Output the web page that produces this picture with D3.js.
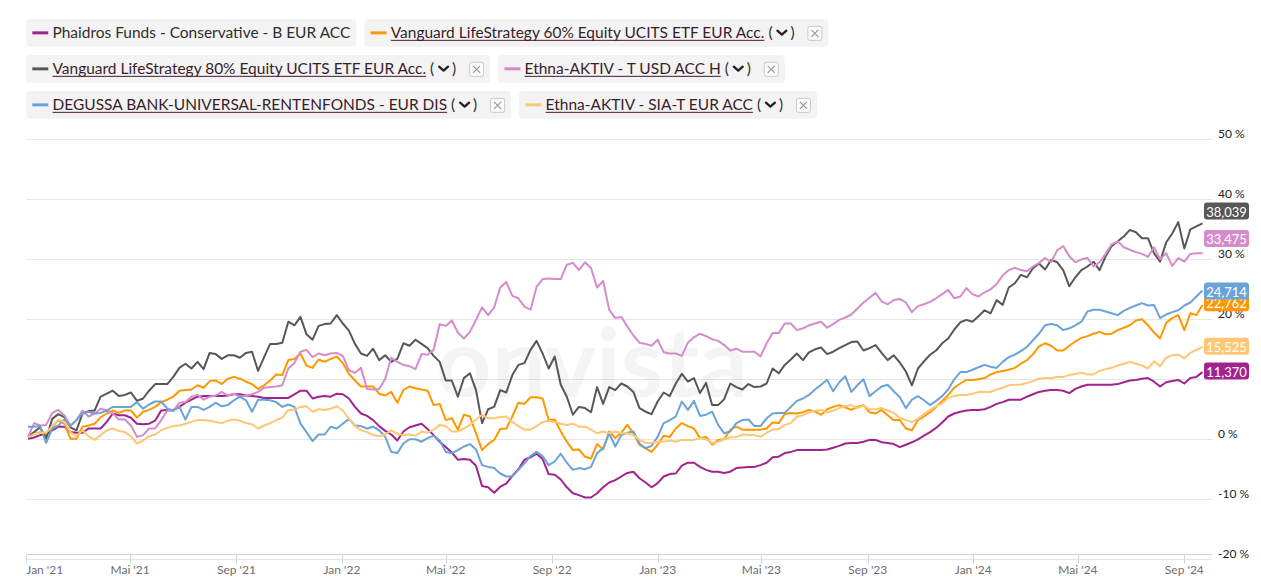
<!DOCTYPE html>
<html><head><meta charset="utf-8">
<script src="https://cdn.jsdelivr.net/npm/d3@7"></script>
<style>
html,body{margin:0;padding:0;background:#fff;}
svg{display:block;font-family:Lato,"Noto Sans",sans-serif;}
</style></head><body>
<svg id="chart" width="1261" height="587"></svg>
<script>
// ---------- DATA ----------
const seriesNames = [
  "Phaidros Funds - Conservative - B EUR ACC",
  "Vanguard LifeStrategy 60% Equity UCITS ETF EUR Acc.",
  "Vanguard LifeStrategy 80% Equity UCITS ETF EUR Acc.",
  "Ethna-AKTIV - T USD ACC H",
  "DEGUSSA BANK-UNIVERSAL-RENTENFONDS - EUR DIS",
  "Ethna-AKTIV - SIA-T EUR ACC"
];
const seriesColors = ["#a2238f","#ff9800","#575757","#d68bcb","#6aa3d7","#ffc674"];
const seriesLinked = [false,true,true,true,true,true];
const endLabels = ["11,370","22,762","38,039","33,475","24,714","15,525"];
const endValues = [11.370,22.762,38.039,33.475,24.714,15.525];
const firstWeek = "2021-01-03"; // weekly observations start

const phaidros = [0.1,0.3,0.7,0.8,1.5,2.1,2.1,1.2,1.1,1.1,1.8,1.8,1.8,2.9,4.3,4,4,3.6,2.6,2.5,2.6,3.1,4.8,4.9,4.9,5.4,6.1,6.6,7.1,7.2,7.2,7.2,7.2,7.3,7.5,7.5,7.3,7.2,7.1,6.9,6.9,6.9,6.9,6.9,7.5,8.1,8.1,6.8,7.1,7.2,7.1,7.6,7.5,6.8,5.4,4.3,3.9,3.2,2.2,1.4,0.8,-0.2,
  1.3,2,2.3,2.6,1.7,0.7,-0.4,-1.3,-2.2,-3.4,-3.3,-3.4,-4.4,-7.8,-8,-8.9,-7.9,-7.4,-6.1,-5,-3.4,-3,-2.4,-3.3,-5.8,-5.9,-6.7,-8,-9,-9.3,-9.7,-9.7,-9,-8,-7.2,-6.8,-6.2,-5.6,-5.4,-6.5,-7.2,-8,-7.3,-6.2,-5.8,-5.7,-4.4,-3.9,-3.9,-4.6,-5.1,-5.4,-5.4,-5.6,-5.4,-4.8,-4.7,-4.6,-4.6,-4.3,-3.9,-3,-2.9,-2.3,-2.1,-1.8,
  -1.8,-1.8,-1.8,-1.8,-1.7,-1.4,-1.1,-0.7,-0.6,-0.6,-0.4,-0.1,-0.1,-0.5,-0.6,-0.8,-1.3,-0.9,-0.5,0,0.6,1.2,1.9,2.8,3.8,4.3,4.6,4.8,4.9,4.9,5,5.4,5.9,6.2,6.6,6.6,6.6,7.1,7.5,7.9,8.1,8.2,8.2,8.1,7.7,8.4,8.8,9.1,9.1,9.1,9.1,9.1,9.2,9.5,9.8,9.9,10.1,10.2,9.6,8.8,9.5,9.7,9.9,9.3,10.2,10.4,11.2];
const vanguard60 = [0.4,0.9,1.2,0.9,2.1,3.2,2.6,0.1,0.1,2.1,2.3,2.6,3.7,4.3,4.8,4.4,4.8,4.8,3.6,4.6,4.9,5.4,6.2,6.6,7.1,8.1,8.2,8.3,9,8.6,9.7,9.8,9.2,10.1,10.4,10.1,9.6,9.2,8.4,9,9.8,10.8,10.7,13.2,13.4,14.3,12.3,11.9,13.3,12.9,13.4,13.8,12.7,10.9,9.8,8.8,8.8,8.8,7.6,7.3,7.9,6.1,
  8.2,8.8,8.5,8.3,8.1,5.7,5.9,3.2,3.5,1.6,4.1,3.8,1,-1.8,-0.8,-0.1,1.7,1.8,3.8,6.1,5.9,7,7,6.8,3.2,3.3,1.3,-0.4,-1.8,-1.7,-2.9,-3.2,-0.8,-1.7,1.3,0.2,1.1,2.4,1,-0.9,-1.5,-2.1,-0.9,0.6,0.4,1.8,2.7,2.2,1.8,0.2,0.4,-0.9,-0.1,0,1.6,2.1,1.6,1.6,1.6,1.6,1.8,2.8,2.7,4.2,4.4,4.3,
  4.5,4.9,4.6,4.1,5,5.4,5.7,5.3,4.9,5.4,5.7,4.5,4.3,4.9,4,3.2,3.2,1.8,1.5,3.2,3.8,4.5,5.4,6.4,7.4,8.6,9.3,9.9,9.9,10,10.2,10.8,11.2,11.4,11.6,11.9,12.6,13.2,14.2,15.5,16,15.6,14.8,14.8,15.6,16.3,16.9,17.2,17.6,17.9,17.5,17.6,18.2,18.6,19,19.8,20,19,17.8,16.8,19.4,20.2,20.7,18.2,21,20.7,22.4];
const vanguard80 = [0.4,1.2,2,0.1,3.4,4.2,3.7,2,1.5,4.3,4.7,4.8,7.1,7.6,8.1,7.2,7.4,7.8,6.4,6.8,8.1,9.2,9.2,9.2,10.4,11.9,12.6,11.8,12.9,11.7,14.4,14.2,13.4,14,14,13.6,14.4,14.6,11.4,13.7,15.9,15.9,16.1,19.6,19,20.4,17.5,16.6,18.9,19.2,19.3,20.7,19.3,18.1,15.9,14.3,13.9,15.1,13.2,14,12.9,13.4,
  16,15.6,16.6,15.9,15.2,13.9,12.9,9.8,9.8,7.1,10.2,11,8.2,2.7,5,5.4,8.2,7.8,10.7,12.4,12.7,14.9,16.4,14.3,11.8,13.8,9.1,7.1,4.1,5.4,5.2,4.5,8.7,5.9,8.7,8.2,9.3,8.8,7.9,5.2,4.6,4.2,6.3,7.8,7.2,9.3,10.9,9.6,10.2,7.7,9.4,5.7,5.7,6.7,9.3,8.7,8.3,9.2,8.7,8.8,9.3,11.8,11,12.4,13.3,14.3,
  13.2,14.5,15,15.3,14.2,14.6,15.2,15.7,16.2,16.3,14.8,15.2,15.7,14.4,13.2,14,12.8,11.3,9,11.8,13,14.1,14.8,16,16.8,18.3,19.5,19.9,19.6,20.5,21.5,21,23.2,22.4,25.3,26,27.4,27,28.5,29.3,28.3,29.9,29.5,28.2,25.5,27,28.2,28.8,29.6,28.2,30.5,32.2,33,33.8,34.9,34.5,33.5,33.5,31,29.6,32.8,34.3,36.2,31.8,35,35.5,36];
const ethnaUsd = [0.4,2.7,2.3,2.4,4.4,4.9,4,2.3,3.2,4.8,3.8,4.3,5.1,4.8,4.3,3.3,3.3,2.3,0.4,0.7,1.8,1.8,3.2,4.8,4.7,6.1,6.2,7.1,7.4,6.6,7.1,7.3,7.9,7.3,7.6,7.1,7.3,7.5,7.9,8.6,8.7,8.8,9,11.8,12.7,14.6,14.9,13.7,14.3,14,14.3,14.4,13.9,11.5,11.1,11.9,8.4,8.3,8.4,10.1,13.6,12.9,
  12.4,12.2,11.7,14.2,14.1,14.9,19.2,18.9,19.8,17.8,16.8,17.9,19.9,22,20.7,22,25.3,26.2,23.9,23.5,22.1,21.6,25.4,26.7,26.8,26.7,26.7,29.1,29.4,28.2,29.5,28.5,25.3,26.4,21.6,20.2,20.4,18.8,17.3,16.1,15.9,15.6,16.6,14.5,14.3,14.3,13.9,16.1,17,17.6,17.2,16.7,16.4,15.7,14.8,15.1,14.6,14.6,14.6,13.8,16,17.7,17.7,19.3,19.3,18.2,
  18.5,19,19.3,19.6,18.6,19.2,19.9,20.3,20.8,21.8,22.8,23.6,24.4,23,22.5,23.2,23.4,22.8,21.2,22.2,22.5,22.9,23.5,24.2,24.9,23.5,23.8,25.2,24.2,23.8,24.5,25,25.9,27.3,28.2,28.6,28.2,28,28.8,29.4,30.2,29.5,31.5,32.2,30.5,29.5,30,30.2,28.8,29.5,30.9,32.5,33,32,31.6,31.2,30.9,30.4,32,30,31,28.9,30.2,29.6,30.9,31,31];
const degussa = [2.1,2.1,2.2,-0.6,1.8,2.3,3.3,2.2,3.2,4.3,4.6,4.3,4.4,4.8,5.4,5.4,5.4,5.4,6.2,5.1,5.8,6.3,6.3,5.1,4.8,5.4,3.3,5.4,5.4,4.9,5.4,6.1,5.5,5.7,6.5,7.1,6.5,4.6,6.6,6.6,6.5,6.2,5.4,5.8,5.4,2.6,1.2,-0.3,0.8,0.8,2.1,1.8,2.6,3.4,2.3,2.2,1.8,2.1,1.5,0.4,-2.1,-2.3,
  -0.7,0,0,-0.4,0.2,0.6,-0.2,-2.1,-2.3,-1.8,-1.2,-0.8,-1.7,-4.3,-4.6,-4.8,-5.7,-6.2,-6.2,-5.1,-4,-2.8,-2.1,-2.8,-4.3,-3.7,-2.4,-3.9,-5.1,-4.8,-5,-4.6,-2.3,-1.5,1,-1.2,0.7,1.1,1.3,-0.7,-1.5,-1.1,0.4,2.7,3.2,3.8,6.3,4.9,6.4,3.9,4.1,4.6,2.4,1,1.3,2.7,3.2,3.3,2.2,2.2,3.5,4.3,4.4,4.4,5.4,6.4,
  6.8,7.4,8.3,9.1,9.9,8,9.5,10.5,7.9,9,10,7.2,8,8.8,9.1,8,7,5.2,6.6,7.2,6.5,5.7,6.4,7.2,8.3,10,11.2,11.2,11.6,12,12.4,12.1,11.9,12.9,13.7,14.1,14.7,15.4,16.5,17.6,19,19.2,19,18.2,18.5,19,19.6,21.3,21.6,21.6,21.3,21,20.7,21.4,21.9,22.3,22.7,22.3,22.4,20.2,20.8,21.2,21.5,22.3,22.8,23.8,24.8];
const ethnaEur = [0.3,0.9,1.1,1.1,2.2,3.3,2.9,1.2,0.5,1.5,0.5,-0.1,0.7,1.5,1.8,1.4,1.2,0.5,-0.7,-0.2,0.5,0.8,1.5,1.9,2.2,2.3,2.6,2.9,3.2,3.2,3.1,2.9,2.7,3.1,3.3,3.1,2.7,2.5,1.8,2.3,2.7,3.2,3.6,4.9,4.9,5.4,5.5,4.6,5,4.9,5.1,5.5,4.8,3.4,2.2,1.5,1.2,0.7,0.5,0.8,1.5,0.9,
  0.7,0.8,0.6,1.3,1.1,1.6,2.4,2.2,1.3,1.3,1.8,2.4,3.3,4.1,3.5,3.5,3.7,3.8,2.9,2.2,1.6,1.6,2.2,2.9,3.1,2.9,2.6,2.4,2.6,2.1,2.1,1.6,1,1.3,1,1.3,1,1,0.7,-0.1,-0.6,-0.6,-0.4,-0.4,-0.2,-0.4,-0.1,-0.1,-0.1,0.2,0,-0.6,-0.4,0,0.3,0.4,0.8,0.7,0.7,0.4,1.1,1.6,1.7,2.4,2.7,3.8,
  4,4.5,4.7,4.9,4.5,4.8,5.2,5.5,5.7,5.2,5.6,5,5,5.2,4.8,4.4,3.6,3.2,2.9,3.4,4.2,4.9,5.5,6,6.9,7.2,7.4,7.4,7.6,7.9,7.9,7.9,8.3,8.6,9,9.1,9.1,9.4,9.7,10.1,10.2,10.2,10.4,10.4,10.7,10.9,11.1,10.8,10.8,11.4,11.7,11.9,12.3,12.6,12.9,12.6,12.3,11.8,13,12.2,13.6,14,14.1,13.5,14.4,14.9,15.4];

const yTicks = [50,40,30,20,10,0,-10,-20];
const yTickLabels = ["50 %","40 %","30 %","20 %","10 %","0 %","-10 %","-20 %"];
const xTickDates = ["2021-01-01","2021-05-01","2021-09-01","2022-01-01","2022-05-01","2022-09-01","2023-01-01","2023-05-01","2023-09-01","2024-01-01","2024-05-01","2024-09-01"];
const xTickLabels = ["Jan '21","Mai '21","Sep '21","Jan '22","Mai '22","Sep '22","Jan '23","Mai '23","Sep '23","Jan '24","Mai '24","Sep '24"];

// ---------- CHART ----------
const allSeries = [phaidros, vanguard60, vanguard80, ethnaUsd, degussa, ethnaEur];
const svg = d3.select("#chart");
const W = 1261, H = 587;
const plotL = 26.3, plotR = 1212.7;

const x = d3.scaleUtc()
  .domain([new Date(Date.UTC(2021,0,1)), new Date(Date.UTC(2024,0,1))])
  .range([plotL, 973.3]);
const y = d3.scaleLinear().domain([-20, 50]).range([559.3, 139.3]);

const start = new Date(firstWeek + "T00:00:00Z");

// gridlines
svg.append("g").selectAll("line").data(yTicks).join("line")
  .attr("x1", plotL).attr("x2", plotR)
  .attr("y1", d => Math.round(y(d)) + 0.5).attr("y2", d => Math.round(y(d)) + 0.5)
  .attr("stroke", "#e6e6e6").attr("stroke-width", 1);

// y labels (right)
svg.append("g").selectAll("text").data(yTicks).join("text")
  .attr("x", 1218).attr("y", d => y(d) - 6)
  .attr("dominant-baseline", "central")
  .attr("font-size", 12).attr("fill", "#222")
  .text((d, i) => yTickLabels[i]);

// watermark
const wm = svg.append("text").text("onvista")
  .attr("x", 592).attr("y", 397).attr("text-anchor", "middle")
  .attr("font-size", 92).attr("font-weight", 700)
  .attr("fill", "#000").attr("fill-opacity", 0.045);
{
  const w = wm.node().getComputedTextLength();
  wm.attr("font-size", 92 * 312 / w);
}

// x axis line + ticks
const axisY = 554.5;
svg.append("line").attr("x1", plotL).attr("x2", plotR).attr("y1", axisY).attr("y2", axisY)
  .attr("stroke", "#ccd6eb").attr("stroke-width", 1);
const xt = xTickDates.map(s => new Date(s + "T00:00:00Z"));
svg.append("g").selectAll("line").data(xt).join("line")
  .attr("x1", d => Math.round(x(d)) + 0.5).attr("x2", d => Math.round(x(d)) + 0.5)
  .attr("y1", axisY).attr("y2", 563.5)
  .attr("stroke", "#ccd6eb").attr("stroke-width", 1);
svg.append("g").selectAll("text").data(xt).join("text")
  .attr("x", d => x(d)).attr("y", 569.5)
  .attr("text-anchor", (d, i) => i === 0 ? "start" : "middle")
  .attr("dominant-baseline", "central")
  .attr("font-size", 12).attr("fill", "#6e6e6e")
  .text((d, i) => xTickLabels[i]);

// lines
const line = d3.line().x(d => x(d.date)).y(d => y(d.v));
allSeries.forEach((vals, si) => {
  const pts = vals.map((v, i) => ({ date: d3.utcWeek.offset(start, i), v }));
  svg.append("path").datum(pts)
    .attr("d", line)
    .attr("fill", "none")
    .attr("stroke", seriesColors[si])
    .attr("stroke-width", 2)
    .attr("stroke-linejoin", "round");
});

// end labels
allSeries.forEach((vals, si) => {
  const cy = y(endValues[si]);
  const g = svg.append("g");
  g.append("rect").attr("x", 1204).attr("y", cy - 8.5).attr("width", 45).attr("height", 17)
    .attr("rx", 3).attr("fill", seriesColors[si]);
  g.append("text").attr("x", 1226.5).attr("y", cy + 0.5)
    .attr("text-anchor", "middle").attr("dominant-baseline", "central")
    .attr("font-size", 13).attr("fill", "#fff").text(endLabels[si]);
});

// legend
const legend = svg.append("g");
// fit font size to reference text width
let legendFont = 14;
{
  const t = legend.append("text").attr("font-size", 14).text(seriesNames[0]);
  legendFont = 14 * 298 / t.node().getComputedTextLength();
  t.remove();
}
let lx = 26, ly = 19;
const rowH = 27.7, rowStep = 36, maxRight = 1235, gap = 8;
seriesNames.forEach((name, i) => {
  const g = legend.append("g");
  const tmp = g.append("text").attr("font-size", legendFont).text(name);
  const tw = tmp.node().getComputedTextLength();
  tmp.remove();
  const linked = seriesLinked[i];
  const w = 26.5 + tw + (linked ? 4 + 27 + 12 + 15 + 6 : 6);
  if (lx + w > maxRight) { lx = 26; ly += rowStep; }
  const cy = ly + rowH / 2;
  const txtCol = linked ? "#3a1d2b" : "#2e2e2e";
  g.append("rect").attr("x", lx).attr("y", ly).attr("width", w).attr("height", rowH)
    .attr("rx", 4).attr("fill", "#f3f3f3");
  g.append("line").attr("x1", lx + 6.3).attr("x2", lx + 22.3).attr("y1", cy).attr("y2", cy)
    .attr("stroke", seriesColors[i]).attr("stroke-width", 3);
  const tx = lx + 26.5;
  g.append("text").attr("x", tx).attr("y", cy + 4.8)
    .attr("font-size", legendFont).attr("fill", txtCol).text(name);
  if (linked) {
    g.append("line").attr("x1", tx).attr("x2", tx + tw).attr("y1", cy + 7.5).attr("y2", cy + 7.5)
      .attr("stroke", "#4a1a33").attr("stroke-width", 1);
    const px = tx + tw + 4;
    g.append("text").attr("x", px).attr("y", cy + 4.8).attr("font-size", legendFont)
      .attr("fill", "#2e2e2e").text("(");
    g.append("path")
      .attr("d", `M${px + 9},${cy - 2.2} L${px + 13.5},${cy + 1.8} L${px + 18},${cy - 2.2}`)
      .attr("fill", "none").attr("stroke", "#222").attr("stroke-width", 2.3)
      .attr("stroke-linecap", "round").attr("stroke-linejoin", "round");
    g.append("text").attr("x", px + 22).attr("y", cy + 4.8).attr("font-size", legendFont)
      .attr("fill", "#2e2e2e").text(")");
    const bx = px + 27 + 12;
    g.append("rect").attr("x", bx + 0.5).attr("y", cy - 6.5).attr("width", 14).attr("height", 14)
      .attr("rx", 2).attr("fill", "#fbfbfb").attr("stroke", "#c9c9c9");
    g.append("path")
      .attr("d", `M${bx + 4},${cy - 3} L${bx + 11},${cy + 4} M${bx + 11},${cy - 3} L${bx + 4},${cy + 4}`)
      .attr("stroke", "#9a9a9a").attr("stroke-width", 1.2);
  }
  lx += w + gap;
});
</script>
</body></html>
